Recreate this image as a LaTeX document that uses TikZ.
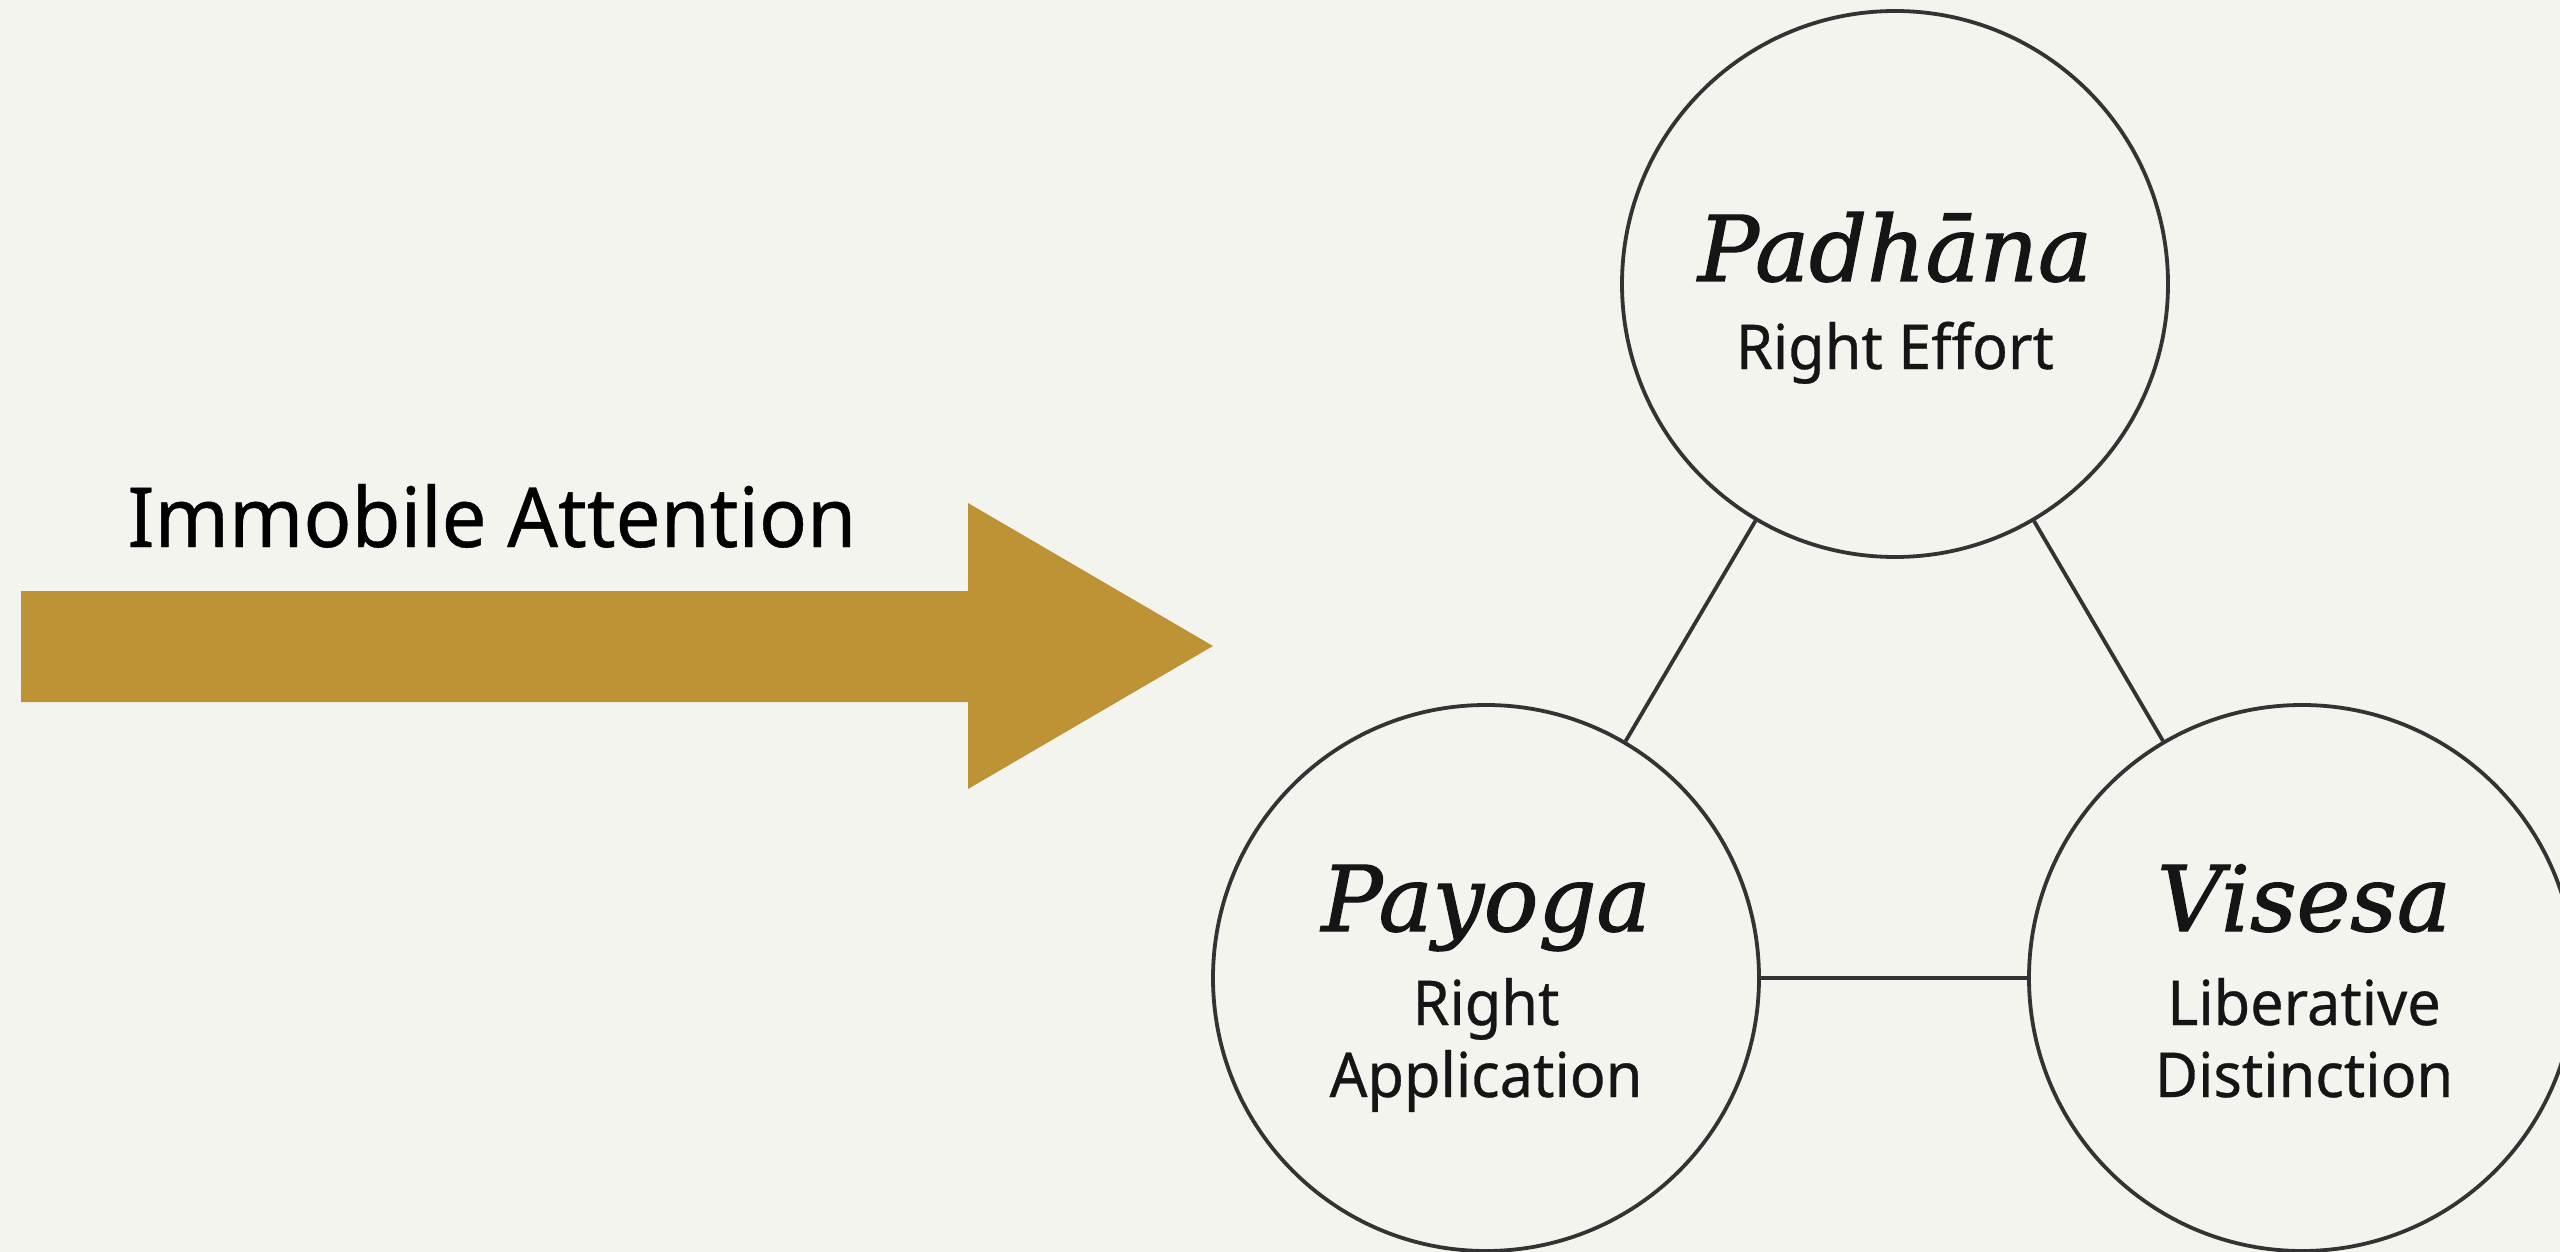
\documentclass[tikz,border=0pt]{standalone}
\usepackage{fontspec}
\newfontfamily\labelfont[FakeStretch=0.96,FakeBold=0.5]{Noto Sans}
\newfontfamily\titlefont[FakeBold=1.4]{DejaVu Serif}
\usetikzlibrary{positioning}
\definecolor{bg}{HTML}{F4F4EF}
\definecolor{gold}{HTML}{BE9336}
\definecolor{ink}{HTML}{333333}
\definecolor{txt}{HTML}{151515}
\tikzset{
  ring/.style={circle, draw=ink, line width=0.38mm, minimum size=54.6mm, inner sep=0pt},
  link/.style={draw=ink, line width=0.38mm},
  title/.style={font=\titlefont\itshape\fontsize{25.8pt}{30pt}\selectfont, text=txt, anchor=base, inner sep=0pt},
  sub/.style={font=\labelfont\fontsize{17.6pt}{21pt}\selectfont, text=txt, anchor=base, inner sep=0pt},
  biglabel/.style={font=\labelfont\fontsize{23.6pt}{28pt}\selectfont, text=black, anchor=base, inner sep=0pt}
}
\begin{document}
\begin{tikzpicture}[x=0.1mm, y=-0.1mm]
  \path[use as bounding box, fill=bg] (0,0) rectangle (2560,1252);
  \clip (0,0) rectangle (2560,1252);
  % arrow
  \fill[gold] (21,591) -- (968,591) -- (968,503) -- (1213,646) -- (968,789) -- (968,702) -- (21,702) -- cycle;
  \node[biglabel] (att) at (492,547) {Immobile Attention};
  % circles
  \node[ring] (top) at (1895,284) {};
  \node[ring] (left) at (1486,978) {};
  \node[ring] (right) at (2302,978) {};
  \draw[link] (top) -- (left);
  \draw[link] (top) -- (right);
  \draw[link] (left) -- (right);
  % texts
  \node[title] (t1) at (1895,281) {Padhāna};
  \node[sub] (s1) at (1895,369) {Right Effort};
  \node[title] (t2) at (1486,931) {Payoga};
  \node[sub] (s2a) at (1486,1025) {Right};
  \node[sub] (s2b) at (1486,1097) {Application};
  \node[title] (t3) at (2304,931) {Visesa};
  \node[sub] (s3a) at (2304,1025) {Liberative};
  \node[sub] (s3b) at (2304,1097) {Distinction};
\end{tikzpicture}
\end{document}
